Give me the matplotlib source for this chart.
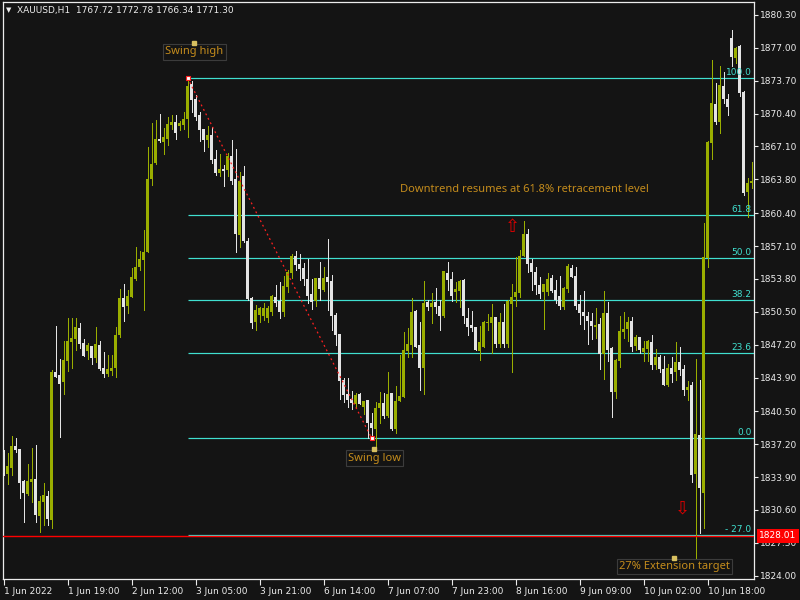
import matplotlib
matplotlib.use("Agg")
import matplotlib.pyplot as plt
import matplotlib.transforms as mtransforms
import numpy as np

# ---------------- data (H1 bars, XAUUSD) ----------------
opens = [1836.43, 1834.22, 1834.82, 1837.03, 1836.73, 1833.52, 1832.21, 1833.42, 1833.72, 1830.00,
         1831.41, 1832.01, 1829.60, 1844.46, 1844.16, 1843.46, 1845.57, 1847.47, 1847.77, 1848.88,
         1847.37, 1846.57, 1847.07, 1845.87, 1847.17, 1844.86, 1844.26, 1844.56, 1844.86, 1848.18,
         1851.89, 1851.09, 1851.99, 1853.80, 1855.00, 1855.71, 1856.51, 1863.84, 1865.44, 1867.85,
         1867.55, 1867.85, 1869.26, 1869.56, 1869.16, 1869.26, 1869.86, 1873.38, 1871.87, 1870.26,
         1868.86, 1867.75, 1868.26, 1865.85, 1864.44, 1864.84, 1864.74, 1866.15, 1863.84, 1858.22,
         1864.14, 1857.61, 1851.89, 1849.48, 1850.18, 1850.08, 1849.88, 1850.49, 1851.99, 1851.59,
         1850.49, 1853.00, 1854.40, 1856.11, 1855.30, 1854.90, 1853.80, 1852.29, 1851.59, 1853.90,
         1852.69, 1854.00, 1853.60, 1850.18, 1848.28, 1843.66, 1842.25, 1841.75, 1841.25, 1842.25,
         1840.95, 1841.65, 1839.34, 1838.74, 1840.85, 1841.35, 1840.04, 1842.35, 1838.74, 1841.55,
         1841.95, 1846.57, 1847.17, 1850.59, 1847.17, 1844.86, 1851.49, 1850.99, 1851.49, 1851.09,
         1850.08, 1854.40, 1853.80, 1852.49, 1852.59, 1853.70, 1849.88, 1849.18, 1848.98, 1846.57,
         1846.97, 1849.38, 1849.38, 1849.98, 1847.27, 1849.48, 1847.27, 1851.29, 1851.99, 1852.39,
         1856.11, 1858.32, 1855.40, 1854.50, 1853.20, 1852.49, 1852.49, 1853.90, 1852.69, 1852.09,
         1850.99, 1852.79, 1854.90, 1854.10, 1851.29, 1850.49, 1850.08, 1849.58, 1848.98, 1849.28,
         1846.27, 1850.38, 1846.87, 1842.45, 1845.57, 1848.48, 1848.78, 1849.58, 1847.07, 1847.98,
         1846.47, 1846.77, 1847.47, 1845.16, 1845.97, 1844.76, 1843.16, 1844.86, 1844.46, 1845.47,
         1844.76, 1842.65, 1843.16, 1834.22, 1838.14, 1832.31, 1855.91, 1867.45, 1871.37, 1869.56,
         1873.18, 1871.87, 1877.99, 1875.99, 1877.19, 1872.57, 1862.53, 1863.44]
highs = [1836.63, 1836.33, 1838.04, 1837.83, 1836.73, 1833.62, 1835.22, 1836.83, 1837.13, 1832.01,
         1833.32, 1832.51, 1844.66, 1849.08, 1845.77, 1847.57, 1849.88, 1849.88, 1849.88, 1849.38,
         1847.77, 1847.37, 1847.07, 1848.98, 1847.57, 1846.47, 1846.17, 1846.17, 1848.98, 1852.79,
         1853.30, 1852.69, 1854.90, 1857.01, 1856.61, 1858.72, 1867.05, 1869.46, 1869.76, 1870.36,
         1868.96, 1870.06, 1870.26, 1870.26, 1869.66, 1870.57, 1873.98, 1873.68, 1872.27, 1870.57,
         1868.86, 1869.16, 1869.06, 1866.75, 1866.35, 1865.24, 1866.45, 1867.75, 1866.85, 1864.54,
         1865.14, 1857.91, 1851.99, 1851.19, 1850.99, 1851.39, 1851.09, 1852.19, 1853.20, 1853.50,
         1854.10, 1854.70, 1856.31, 1856.61, 1856.31, 1855.40, 1855.81, 1853.80, 1853.90, 1855.51,
         1855.00, 1857.81, 1854.20, 1850.38, 1848.28, 1843.86, 1843.86, 1842.55, 1842.35, 1842.35,
         1841.55, 1841.65, 1840.34, 1841.45, 1842.45, 1842.35, 1844.46, 1842.35, 1843.06, 1846.17,
         1848.48, 1848.88, 1851.89, 1850.69, 1849.48, 1853.60, 1851.69, 1852.39, 1852.89, 1851.69,
         1854.60, 1855.51, 1854.50, 1853.50, 1853.70, 1853.80, 1850.89, 1850.59, 1848.98, 1849.08,
         1849.58, 1850.28, 1851.29, 1849.98, 1850.38, 1851.29, 1851.69, 1853.30, 1856.01, 1856.71,
         1859.62, 1858.82, 1855.81, 1855.00, 1854.00, 1853.30, 1854.40, 1854.20, 1853.70, 1854.10,
         1853.00, 1855.30, 1855.20, 1855.00, 1852.19, 1852.59, 1850.49, 1850.38, 1850.89, 1849.88,
         1852.59, 1851.49, 1846.97, 1845.77, 1850.08, 1850.49, 1849.98, 1849.98, 1848.18, 1847.98,
         1847.57, 1847.67, 1848.18, 1846.77, 1846.17, 1846.07, 1845.26, 1845.97, 1847.47, 1846.97,
         1845.16, 1843.56, 1843.46, 1845.77, 1843.66, 1859.42, 1867.65, 1875.79, 1873.48, 1875.18,
         1874.58, 1872.37, 1878.80, 1877.09, 1877.29, 1872.67, 1863.94, 1865.55]
lows = [1834.12, 1833.22, 1834.12, 1836.43, 1831.81, 1829.40, 1832.11, 1831.41, 1829.40, 1828.40,
        1829.10, 1829.10, 1828.80, 1843.96, 1837.94, 1842.25, 1844.56, 1844.86, 1846.67, 1846.87,
        1846.07, 1845.77, 1845.26, 1845.47, 1844.66, 1843.96, 1844.06, 1844.16, 1843.96, 1847.98,
        1849.58, 1850.38, 1851.99, 1853.70, 1854.70, 1850.69, 1856.51, 1863.24, 1865.34, 1867.55,
        1866.35, 1867.25, 1868.86, 1867.85, 1868.76, 1868.86, 1868.06, 1870.57, 1869.76, 1867.65,
        1866.65, 1867.05, 1865.44, 1864.24, 1864.14, 1863.14, 1864.14, 1863.34, 1856.51, 1857.01,
        1857.51, 1851.69, 1848.88, 1848.68, 1849.48, 1849.68, 1849.48, 1850.18, 1851.09, 1849.88,
        1850.08, 1852.49, 1853.90, 1854.70, 1853.70, 1853.20, 1851.39, 1850.79, 1851.09, 1851.69,
        1852.59, 1850.69, 1848.68, 1847.17, 1841.75, 1841.45, 1840.95, 1840.75, 1840.95, 1841.25,
        1840.24, 1837.83, 1837.83, 1836.93, 1839.34, 1839.84, 1839.94, 1838.64, 1838.34, 1841.55,
        1841.95, 1845.97, 1845.97, 1846.97, 1842.65, 1842.25, 1850.69, 1849.38, 1850.38, 1848.68,
        1849.98, 1852.69, 1851.59, 1851.49, 1850.99, 1849.38, 1848.18, 1848.58, 1846.67, 1845.67,
        1846.97, 1848.68, 1846.37, 1846.97, 1846.97, 1846.97, 1846.97, 1844.46, 1851.09, 1851.99,
        1856.11, 1854.50, 1852.69, 1852.29, 1851.89, 1848.78, 1852.19, 1852.49, 1851.39, 1850.79,
        1850.79, 1852.49, 1854.00, 1850.79, 1849.28, 1848.78, 1847.27, 1847.77, 1847.87, 1844.76,
        1843.76, 1845.57, 1839.94, 1841.85, 1844.96, 1847.87, 1847.57, 1846.57, 1846.67, 1846.37,
        1845.57, 1845.57, 1844.76, 1844.76, 1844.46, 1843.16, 1843.06, 1843.46, 1843.66, 1844.16,
        1842.15, 1841.65, 1833.42, 1824.98, 1828.30, 1828.80, 1855.00, 1865.85, 1869.36, 1868.46,
        1871.47, 1870.26, 1875.18, 1875.48, 1872.17, 1862.23, 1860.02, 1862.93]
closes = [1834.32, 1835.02, 1837.03, 1836.63, 1833.32, 1832.31, 1833.52, 1833.72, 1830.10, 1831.51,
          1832.11, 1829.70, 1844.46, 1843.96, 1843.26, 1845.67, 1847.57, 1847.87, 1848.98, 1847.27,
          1846.07, 1847.17, 1845.87, 1847.27, 1844.76, 1844.26, 1844.76, 1844.86, 1848.18, 1851.89,
          1850.99, 1852.09, 1854.00, 1855.00, 1855.81, 1856.51, 1863.84, 1865.34, 1867.85, 1867.65,
          1868.06, 1869.36, 1869.56, 1868.46, 1869.46, 1869.86, 1873.18, 1871.77, 1870.06, 1868.76,
          1867.75, 1868.26, 1865.75, 1864.44, 1864.84, 1864.64, 1866.15, 1863.64, 1858.32, 1863.64,
          1857.61, 1851.79, 1849.38, 1850.69, 1850.89, 1850.89, 1850.89, 1852.09, 1851.39, 1850.49,
          1853.10, 1854.50, 1856.11, 1855.20, 1854.80, 1853.80, 1852.09, 1851.49, 1853.90, 1852.79,
          1853.90, 1853.50, 1850.08, 1848.18, 1843.56, 1842.15, 1841.65, 1841.35, 1842.15, 1841.25,
          1841.55, 1839.34, 1838.84, 1840.85, 1841.35, 1840.04, 1842.25, 1838.74, 1841.55, 1842.05,
          1846.67, 1847.27, 1850.49, 1846.97, 1844.86, 1851.39, 1850.99, 1851.39, 1850.99, 1850.08,
          1854.60, 1853.70, 1852.09, 1852.79, 1853.60, 1850.08, 1848.98, 1848.88, 1846.67, 1847.47,
          1849.48, 1849.48, 1849.98, 1847.27, 1849.48, 1847.27, 1851.59, 1851.99, 1852.49, 1856.11,
          1858.32, 1855.30, 1854.50, 1853.20, 1852.29, 1853.30, 1853.80, 1852.59, 1851.69, 1851.09,
          1852.89, 1855.10, 1854.00, 1851.09, 1850.38, 1850.08, 1849.58, 1849.08, 1849.18, 1846.27,
          1850.38, 1846.67, 1842.45, 1845.67, 1848.58, 1848.78, 1849.48, 1846.97, 1847.98, 1846.67,
          1846.87, 1847.57, 1845.16, 1845.97, 1844.76, 1843.16, 1844.86, 1844.26, 1845.47, 1844.66,
          1842.65, 1842.96, 1834.12, 1838.24, 1832.82, 1856.01, 1867.55, 1871.47, 1869.56, 1873.28,
          1871.87, 1871.07, 1876.09, 1876.99, 1872.47, 1862.43, 1863.44, 1863.64]

time_labels = ["1 Jun 2022", "1 Jun 19:00", "2 Jun 12:00", "3 Jun 05:00", "3 Jun 21:00",
               "6 Jun 14:00", "7 Jun 07:00", "7 Jun 23:00", "8 Jun 16:00", "9 Jun 09:00",
               "10 Jun 02:00", "10 Jun 18:00"]
price_ticks = [1880.30, 1877.00, 1873.70, 1870.40, 1867.10, 1863.80, 1860.40, 1857.10, 1853.80,
               1850.50, 1847.20, 1843.90, 1840.50, 1837.20, 1833.90, 1830.60, 1827.30, 1824.00]

fib_ratios = [100.0, 61.8, 50.0, 38.2, 23.6, 0.0, -27.0]
fib_labels = ["100.0", "61.8", "50.0", "38.2", "23.6", "0.0", "- 27.0"]
swing_high_bar = 46
swing_low_bar = 92
current_price = 1828.01
header = "XAUUSD,H1  1767.72 1772.78 1766.34 1771.30"

# ---------------- style ----------------
BG = "#141414"
BULL = "#9aae00"
BEAR = "#e4e4e4"
FIB = "#40e0d0"
TXT = "#c48c1c"
AX = "#ececec"
FONT = "DejaVu Sans"
PX = 72.0 / 100.0  # one pixel in points

n = len(opens)
x = np.arange(n)
o = np.array(opens); h = np.array(highs); l = np.array(lows); c = np.array(closes)

fig = plt.figure(figsize=(8, 6), dpi=100, facecolor=BG)
ax = fig.add_axes([2.5 / 800, 21 / 600, 751 / 800, 577 / 600], facecolor=BG)
ax.set_xlim(-0.25, 187.5)
ax.set_ylim(1823.67, 1881.60)

# candles
bull = c >= o
cols = np.where(bull, BULL, BEAR)
ax.vlines(x, l, h, colors=cols, linewidth=PX, antialiased=False, zorder=3)
body_bottom = np.minimum(o, c)
body_h = np.maximum(np.abs(c - o), 0.08)
ax.bar(x, body_h, bottom=body_bottom, width=0.75, color=cols, linewidth=0,
       antialiased=False, zorder=4)

# fibonacci levels
hi = highs[swing_high_bar]
lo = lows[swing_low_bar]
blend = mtransforms.blended_transform_factory(ax.transAxes, ax.transData)
for r, lab in zip(fib_ratios, fib_labels):
    lvl = lo + (hi - lo) * r / 100.0
    ax.hlines(lvl, swing_high_bar, 187.5, colors=FIB, linewidth=PX * 1.2, zorder=2)
    ax.annotate(lab, xy=(1.0, lvl), xycoords=blend, xytext=(-1.5, 1.0),
                textcoords="offset points", ha="right", va="bottom",
                color=FIB, fontsize=6.5, family=FONT, zorder=6)

# trend line between swing points
ax.plot([swing_high_bar, swing_low_bar], [hi, lo], color="#ff2020", linewidth=0.9,
        linestyle=(0, (1.5, 2.5)), zorder=5)
ax.plot([swing_high_bar, swing_low_bar], [hi, lo], linestyle="none", marker="s",
        markersize=3, markerfacecolor="white", markeredgecolor="#ff2020",
        markeredgewidth=0.8, zorder=6)

# current price line
ax.axhline(current_price, color="#ff0000", linewidth=1.0, zorder=5)
ax.annotate(f"{current_price:.2f}", xy=(1.0, current_price), xycoords=blend,
            xytext=(4, 0), textcoords="offset points", ha="left", va="center",
            color="white", fontsize=6.5, family=FONT, annotation_clip=False,
            bbox=dict(boxstyle="square,pad=0.25", fc="#ff0000", ec="none"), zorder=7)

# text annotations
box = dict(boxstyle="square,pad=0.2", fc=BG, ec="#3c3c3c", lw=0.8)
ANN = 8.0
ax.text(47.7, 1876.6, "Swing high", color=TXT, fontsize=ANN, family="Noto Sans",
        ha="center", va="center", bbox=box, zorder=6)
ax.plot([47.7], [1877.5], marker="s", markersize=2.2, color="#d8c060", zorder=7)
ax.text(92.8, 1835.8, "Swing low", color=TXT, fontsize=ANN, family="Noto Sans",
        ha="center", va="center", bbox=box, zorder=6)
ax.plot([92.7], [1836.73], marker="s", markersize=2.2, color="#d8c060", zorder=7)
ax.text(167.8, 1824.9, "27% Extension target", color=TXT, fontsize=ANN, family="Noto Sans",
        ha="center", va="center", bbox=box, zorder=6)
ax.plot([167.7], [1825.8], marker="s", markersize=2.2, color="#d8c060", zorder=7)
ax.text(130.2, 1862.8, "Downtrend resumes at 61.8% retracement level", color=TXT,
        fontsize=ANN, family="Noto Sans", ha="center", va="center", zorder=6)

# arrows
ax.text(127.2, 1859.0, "\u21e7", color="#e00000", fontsize=13, family="DejaVu Sans",
        ha="center", va="center", zorder=6)
ax.text(169.7, 1830.7, "\u21e9", color="#e00000", fontsize=13, family="DejaVu Sans",
        ha="center", va="center", zorder=6)

# axes styling
for s in ax.spines.values():
    s.set_color(AX)
    s.set_linewidth(0.9)
ax.yaxis.tick_right()
ax.set_yticks(price_ticks)
ax.set_yticklabels([f"{v:.2f}" for v in price_ticks])
ax.tick_params(axis="y", direction="out", length=3, width=0.8, color=AX,
               labelcolor=AX, labelsize=6.5, pad=2)
tick_pos = np.arange(len(time_labels)) * 16
ax.set_xticks(tick_pos)
ax.set_xticklabels(time_labels)
ax.tick_params(axis="x", direction="out", length=4, width=0.8, color=AX,
               labelcolor=AX, labelsize=6.5, pad=1.5)
for t in ax.get_xticklabels():
    t.set_horizontalalignment("left")
    t.set_family(FONT)
for t in ax.get_yticklabels():
    t.set_family(FONT)

# header
fig.text(17 / 800, 1 - 10 / 600, header, color=AX, fontsize=6.5, family=FONT,
         ha="left", va="center")
fig.text(9 / 800, 1 - 10 / 600, "\u25bc", color=AX, fontsize=5, family=FONT,
         ha="center", va="center")

fig.savefig("out.png", dpi=100, facecolor=BG)
